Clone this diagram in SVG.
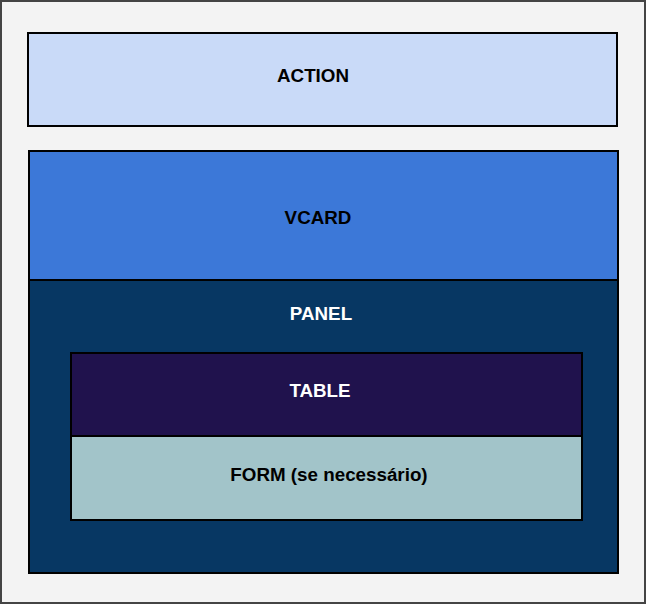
<svg xmlns="http://www.w3.org/2000/svg" width="647" height="605" viewBox="0 0 647 605">
<style>
.box{stroke:#000;stroke-width:2}
.lbl{font-family:"Liberation Sans",Arial,sans-serif;font-size:18.8px;font-weight:bold;text-anchor:middle;dominant-baseline:central}
</style>
<g id="frame"><rect x="1" y="1" width="644" height="602" fill="#f3f3f3" stroke="#444" stroke-width="2"/></g>
<g id="action"><rect class="box" x="28" y="33" width="589" height="93" fill="#c9daf8"/><text class="lbl" x="313" y="75" fill="#000">ACTION</text></g>
<g id="vcard"><rect class="box" x="29" y="151" width="589" height="129" fill="#3c78d8"/><text class="lbl" x="318" y="217" fill="#000">VCARD</text></g>
<g id="panel"><rect class="box" x="29" y="280" width="589" height="293" fill="#073763"/><text class="lbl" x="321" y="313" fill="#fff">PANEL</text></g>
<g id="table"><rect class="box" x="71" y="353" width="511" height="83" fill="#20124d"/><text class="lbl" x="320" y="390" fill="#fff">TABLE</text></g>
<g id="form"><rect class="box" x="71" y="436" width="511" height="84" fill="#a2c4c9"/><text class="lbl" x="329" y="474" fill="#000">FORM (se necessário)</text></g>
<g id="connectors"/>
</svg>
